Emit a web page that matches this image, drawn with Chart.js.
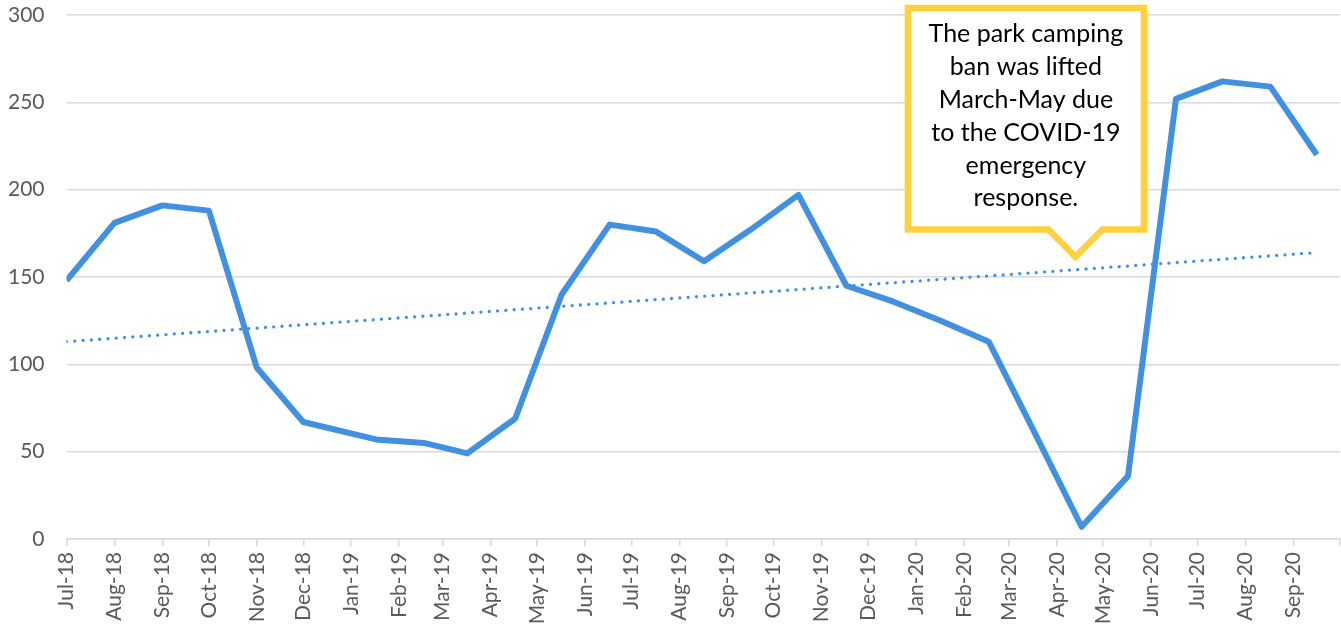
<!DOCTYPE html>
<html>
<head>
<meta charset="utf-8">
<script src="https://cdn.jsdelivr.net/npm/chart.js@4/dist/chart.umd.min.js"></script>
<style>
    html, body { margin: 0; padding: 0; background: #fff; }
    #wrap { width: 1341px; height: 628px; }
</style>
</head>
<body>
<div id="wrap"><canvas id="campChart"></canvas></div>
<script>
// monthly counts (x = date the value was recorded)
const pointDates = [
    "2018-07-01", "2018-08-01", "2018-09-01", "2018-10-01", "2018-11-01", "2018-12-01",
    "2019-01-17", "2019-02-17", "2019-03-17", "2019-04-17", "2019-05-17", "2019-06-17",
    "2019-07-17", "2019-08-17", "2019-09-16", "2019-10-17", "2019-11-17", "2019-12-17",
    "2020-01-17", "2020-02-17", "2020-03-17", "2020-04-17", "2020-05-17", "2020-06-17",
    "2020-07-17", "2020-08-17", "2020-09-16"
];
const pointValues = [
    148, 181, 191, 188, 98, 67,
    57, 55, 49, 69, 140, 180,
    176, 159, 177, 197, 145, 136,
    125, 113, 62, 7, 36, 252,
    262, 259, 220
];

// linear trendline end points
const trendDates = ["2018-07-01", "2020-09-16"];
const trendValues = [113, 164];

// month ticks on the date axis
const tickDates = [
    "2018-07-01", "2018-08-01", "2018-09-01", "2018-10-01", "2018-11-01", "2018-12-01",
    "2019-01-01", "2019-02-01", "2019-03-01", "2019-04-01", "2019-05-01", "2019-06-01",
    "2019-07-01", "2019-08-01", "2019-09-01", "2019-10-01", "2019-11-01", "2019-12-01",
    "2020-01-01", "2020-02-01", "2020-03-01", "2020-04-01", "2020-05-01", "2020-06-01",
    "2020-07-01", "2020-08-01", "2020-09-01", "2020-10-01"
];
const tickLabels = [
    "Jul-18", "Aug-18", "Sep-18", "Oct-18", "Nov-18", "Dec-18",
    "Jan-19", "Feb-19", "Mar-19", "Apr-19", "May-19", "Jun-19",
    "Jul-19", "Aug-19", "Sep-19", "Oct-19", "Nov-19", "Dec-19",
    "Jan-20", "Feb-20", "Mar-20", "Apr-20", "May-20", "Jun-20",
    "Jul-20", "Aug-20", "Sep-20", ""
];

const yMin = 0, yMax = 300, yStep = 50;

const calloutLines = [
    "The park camping", "ban was lifted", "March-May due",
    "to the COVID-19", "emergency", "response."
];
const calloutTarget = { date: "2020-04-13", value: 161.5 };

const startMs = Date.parse(tickDates[0]);
function dayOf(s) {
    return (Date.parse(s) - startMs) / 86400000;
}

const BLUE = "#4290E0";
const GOLD = "#FFD13F";
const GRID = "#D9D9D9";
const TICK_FONT = { family: "Lato", size: 21 };

// callout box with a pointer, anchored to a data position
const calloutPlugin = {
    id: "callout",
    afterDatasetsDraw(chart) {
        const ctx = chart.ctx;
        const tx = chart.scales.x.getPixelForValue(dayOf(calloutTarget.date));
        const ty = chart.scales.y.getPixelForValue(calloutTarget.value);

        const left = tx - 167.5, right = tx + 68.5;
        const top = ty - 249, bottom = ty - 27.5;
        const half = 27;

        ctx.save();
        ctx.beginPath();
        ctx.moveTo(left, top);
        ctx.lineTo(right, top);
        ctx.lineTo(right, bottom);
        ctx.lineTo(tx + half, bottom);
        ctx.lineTo(tx, ty);
        ctx.lineTo(tx - half, bottom);
        ctx.lineTo(left, bottom);
        ctx.closePath();
        ctx.fillStyle = "#fff";
        ctx.fill();
        ctx.lineWidth = 6.5;
        ctx.lineJoin = "miter";
        ctx.strokeStyle = GOLD;
        ctx.stroke();

        ctx.fillStyle = "#000";
        ctx.font = "25px Lato";
        ctx.textAlign = "center";
        ctx.textBaseline = "middle";
        const cx = (left + right) / 2;
        calloutLines.forEach((line, i) => {
            ctx.fillText(line, cx, top + 26.5 + i * 32.8);
        });
        ctx.restore();
    }
};

new Chart(document.getElementById("campChart"), {
    type: "line",
    data: {
        datasets: [
            {
                data: pointDates.map((d, i) => ({ x: dayOf(d), y: pointValues[i] })),
                borderColor: BLUE,
                borderWidth: 6,
                borderJoinStyle: "round",
                pointRadius: 0,
                tension: 0
            },
            {
                data: trendDates.map((d, i) => ({ x: dayOf(d), y: trendValues[i] })),
                borderColor: BLUE,
                borderWidth: 3.3,
                borderDash: [0.01, 8.3],
                borderCapStyle: "round",
                pointRadius: 0,
                tension: 0
            }
        ]
    },
    options: {
        responsive: true,
        maintainAspectRatio: false,
        animation: false,
        layout: { padding: { top: 15, right: 1, left: 0, bottom: 0 } },
        plugins: {
            legend: { display: false },
            tooltip: { enabled: false }
        },
        scales: {
            x: {
                type: "linear",
                min: 0,
                max: dayOf(tickDates[tickDates.length - 1]),
                afterBuildTicks: scale => {
                    scale.ticks = tickDates.map(d => ({ value: dayOf(d) }));
                },
                afterFit: scale => {
                    scale.height = 89;
                    scale.paddingLeft = 0;
                    scale.paddingRight = 0;
                },
                ticks: {
                    autoSkip: false,
                    minRotation: 90,
                    maxRotation: 90,
                    padding: 6,
                    color: "#595959",
                    font: TICK_FONT,
                    callback: (v, i) => tickLabels[i]
                },
                grid: {
                    drawOnChartArea: false,
                    tickLength: 7,
                    color: GRID,
                    lineWidth: 1.5
                },
                border: { color: GRID, width: 1.5 }
            },
            y: {
                min: yMin,
                max: yMax,
                afterFit: scale => {
                    scale.width = 66.5;
                    scale.paddingTop = 0;
                    scale.paddingBottom = 0;
                },
                ticks: {
                    stepSize: yStep,
                    padding: 22,
                    color: "#595959",
                    font: TICK_FONT
                },
                grid: {
                    color: GRID,
                    lineWidth: 1.5,
                    drawTicks: false
                },
                border: { display: false }
            }
        }
    },
    plugins: [calloutPlugin]
});
</script>
</body>
</html>
